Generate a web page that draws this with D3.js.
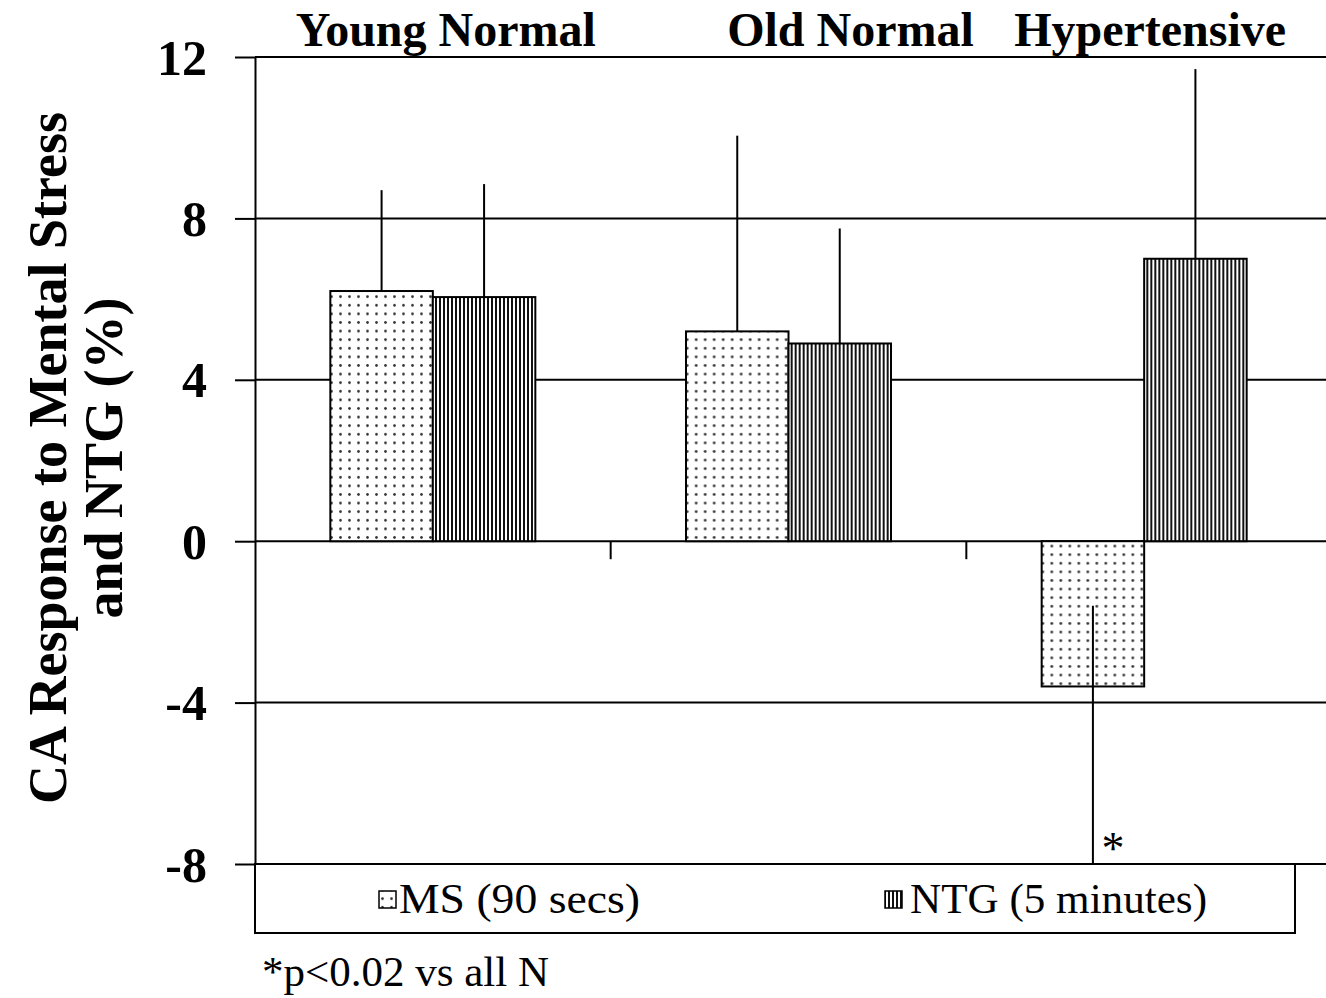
<!DOCTYPE html>
<html><head><meta charset="utf-8">
<script src="https://cdn.jsdelivr.net/npm/d3@7"></script>
<style>
html,body{margin:0;padding:0;background:#fff;}
text{font-family:"Liberation Serif","Times New Roman",serif;fill:#000;}
</style></head>
<body>
<svg id="chart" width="1326" height="998"></svg>
<script>
// ---- data ----
const categories = ["Young Normal", "Old Normal", "Hypertensive"];
const seriesNames = ["MS (90 secs)", "NTG (5 minutes)"];
const msValues = [6.2, 5.2, -3.6];
const ntgValues = [6.05, 4.9, 7.0];
const msErrFrom = [6.2, 5.2, -1.6];
const msErrTo = [8.7, 10.05, -9.0];
const ntgErrFrom = [6.05, 4.9, 7.0];
const ntgErrTo = [8.85, 7.75, 11.7];
const yTicks = [12, 8, 4, 0, -4, -8];
const yTitle = ["CA Response to Mental Stress", "and NTG (%)"];
const footnote = "*p<0.02 vs all N";
const sigMark = "*";

(function () {
// ---- layout ----
const svg = d3.select("#chart");
const pL = 255, pR = 1322, pT = 57, pB = 864;
const y = d3.scaleLinear().domain([-8, 12]).range([pB, pT]);
const x0 = d3.scaleBand().domain(categories).range([pL, pR]).padding(0);
const x1 = d3.scaleBand().domain(["MS", "NTG"]).range([0, x0.bandwidth()]).paddingInner(0).paddingOuter(0.735);

const defs = svg.append("defs");
const dots = defs.append("pattern").attr("id", "dots").attr("patternUnits", "userSpaceOnUse")
  .attr("width", 9).attr("height", 8.6);
dots.append("rect").attr("width", 9).attr("height", 8.6).attr("fill", "#fff");
dots.append("circle").attr("cx", 4.5).attr("cy", 4.3).attr("r", 1.35).attr("fill", "#333");
const stripes = defs.append("pattern").attr("id", "stripes").attr("patternUnits", "userSpaceOnUse")
  .attr("width", 4).attr("height", 4);
stripes.append("rect").attr("width", 4).attr("height", 4).attr("fill", "#fff");
stripes.append("rect").attr("width", 2).attr("height", 4).attr("fill", "#111");

// gridlines
svg.append("g").selectAll("line").data(yTicks).join("line")
  .attr("x1", pL).attr("x2", 1326).attr("y1", d => y(d)).attr("y2", d => y(d))
  .attr("stroke", "#000").attr("stroke-width", 2);

// y axis
const yAxis = svg.append("g").attr("transform", `translate(${pL},0)`)
  .call(d3.axisLeft(y).tickValues(yTicks).tickSize(20).tickSizeOuter(0).tickPadding(28).tickFormat(d => String(d)));
yAxis.select(".domain").attr("stroke", "#000").attr("stroke-width", 2);
yAxis.selectAll(".tick line").attr("stroke", "#000").attr("stroke-width", 2);
yAxis.selectAll(".tick text").attr("font-family", "Liberation Serif, serif").attr("font-size", 50)
  .attr("font-weight", "bold").attr("fill", "#000").attr("dy", "0.34em");

// category ticks on zero line
svg.append("g").selectAll("line").data(categories.slice(1)).join("line")
  .attr("x1", d => x0(d)).attr("x2", d => x0(d)).attr("y1", y(0)).attr("y2", y(0) + 18)
  .attr("stroke", "#000").attr("stroke-width", 2);

// bars
const groups = svg.append("g").selectAll("g").data(categories).join("g")
  .attr("transform", d => `translate(${x0(d)},0)`);
groups.append("rect")
  .attr("x", x1("MS")).attr("width", x1.bandwidth())
  .attr("y", (d, i) => y(Math.max(0, msValues[i])))
  .attr("height", (d, i) => Math.abs(y(msValues[i]) - y(0)))
  .attr("fill", "url(#dots)").attr("stroke", "#000").attr("stroke-width", 2);
groups.append("rect")
  .attr("x", x1("NTG")).attr("width", x1.bandwidth())
  .attr("y", (d, i) => y(Math.max(0, ntgValues[i])))
  .attr("height", (d, i) => Math.abs(y(ntgValues[i]) - y(0)))
  .attr("fill", "url(#stripes)").attr("stroke", "#000").attr("stroke-width", 2);

// error bars
groups.append("line")
  .attr("x1", x1("MS") + x1.bandwidth() / 2).attr("x2", x1("MS") + x1.bandwidth() / 2)
  .attr("y1", (d, i) => y(msErrFrom[i])).attr("y2", (d, i) => y(msErrTo[i]))
  .attr("stroke", "#000").attr("stroke-width", 2);
groups.append("line")
  .attr("x1", x1("NTG") + x1.bandwidth() / 2).attr("x2", x1("NTG") + x1.bandwidth() / 2)
  .attr("y1", (d, i) => y(ntgErrFrom[i])).attr("y2", (d, i) => y(ntgErrTo[i]))
  .attr("stroke", "#000").attr("stroke-width", 2);

// category titles
const titleOffsets = [13, 62, 6];
svg.append("g").selectAll("text").data(categories).join("text")
  .attr("x", (d, i) => x0(d) + x0.bandwidth() / 2 + titleOffsets[i]).attr("y", 46)
  .attr("text-anchor", "middle").attr("font-size", 48).attr("font-weight", "bold")
  .text(d => d);

// significance mark
svg.append("text").attr("x", x0(categories[2]) + x1("MS") + x1.bandwidth() / 2 + 20).attr("y", y(-8))
  .attr("text-anchor", "middle").attr("font-size", 46).text(sigMark);

// legend
const lg = svg.append("g");
lg.append("rect").attr("x", pL).attr("y", pB).attr("width", 1295 - pL).attr("height", 69)
  .attr("fill", "#fff").attr("stroke", "#000").attr("stroke-width", 2);
const legendItems = [
  {name: seriesNames[0], fill: "url(#dots)", sx: 379, tx: 399, w: 241},
  {name: seriesNames[1], fill: "url(#stripes)", sx: 885, tx: 910, w: 297}
];
legendItems.forEach(it => {
  lg.append("rect").attr("x", it.sx).attr("y", 891).attr("width", 17).attr("height", 17)
    .attr("fill", it.fill).attr("stroke", "#000").attr("stroke-width", 1.5);
  lg.append("text").attr("x", it.tx).attr("y", 913).attr("font-size", 43)
    .attr("textLength", it.w).attr("lengthAdjust", "spacingAndGlyphs").text(it.name);
});

// y title
const yt = svg.append("text").attr("transform", "translate(66,458) rotate(-90)")
  .attr("text-anchor", "middle").attr("font-size", 54).attr("font-weight", "bold");
yt.append("tspan").attr("x", 0).attr("dy", 0).text(yTitle[0]);
yt.append("tspan").attr("x", 0).attr("dy", 56).text(yTitle[1]);

// footnote
svg.append("text").attr("x", 262).attr("y", 986).attr("font-size", 43).text(footnote);
})();
</script>
</body></html>
